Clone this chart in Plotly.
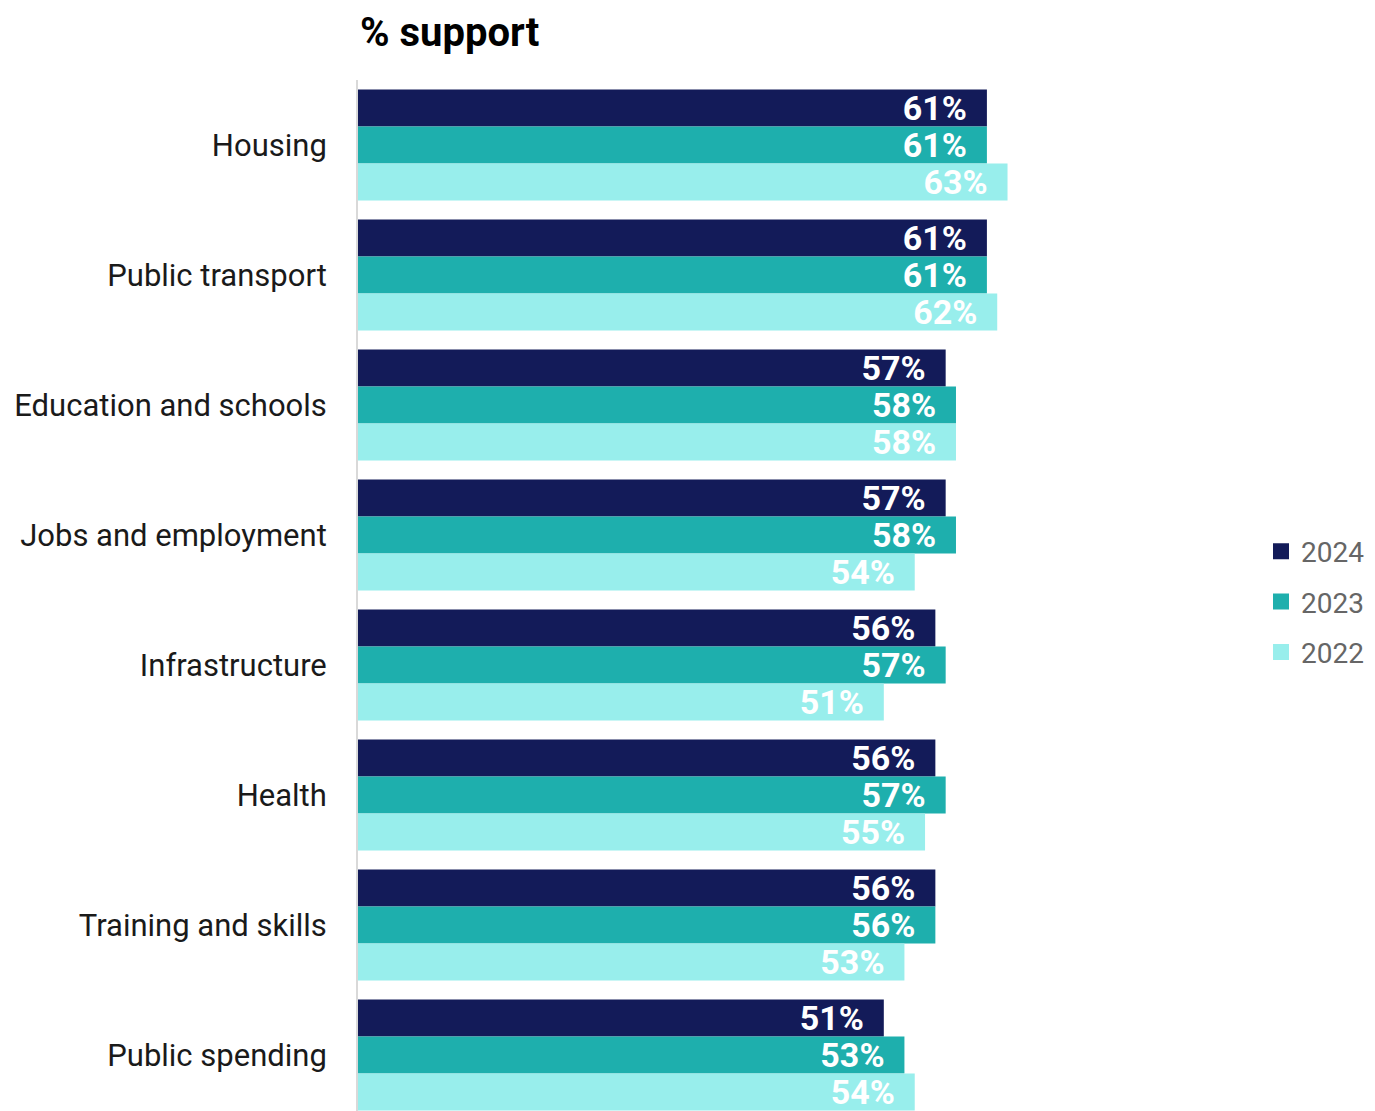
import plotly.graph_objects as go

categories = ["Housing", "Public transport", "Education and schools", "Jobs and employment",
              "Infrastructure", "Health", "Training and skills", "Public spending"]
series_names = ["2024", "2023", "2022"]
values_2024 = [61, 61, 57, 57, 56, 56, 56, 51]
values_2023 = [61, 61, 58, 58, 57, 57, 56, 53]
values_2022 = [63, 62, 58, 54, 51, 55, 53, 54]
colors = ["#131B59", "#1EAFAD", "#98EEEC"]

OFF = 8  # page body margin
W, H = 1375 - OFF, 1111 - OFF
left, right, top, bottom = 358 - OFF, 1240 - OFF, 80 - OFF, 1111 - OFF
px_per_unit = 10.31
pitch = 130.0
plot_h = bottom - top
plot_w = right - left

fig = go.Figure()
for name, vals, col in zip(series_names, [values_2024, values_2023, values_2022], colors):
    fig.add_trace(go.Bar(
        y=categories, x=vals, name=name, orientation="h",
        marker=dict(color=col, line=dict(width=0)),
        text=[f"{v}%\u00a0\u00a0" for v in vals],
        textposition="inside", insidetextanchor="end", constraintext="none",
        textfont=dict(family="Roboto", size=34, color="white", weight="bold"),
        showlegend=False,
    ))
for name, col in zip(series_names, colors):
    fig.add_trace(go.Scatter(
        x=[None], y=[None], mode="markers", name=name,
        marker=dict(symbol="square", size=16, color=col),
        legendgroup=name, showlegend=True,
    ))

fig.add_annotation(
    text="<b>% support</b>", xref="paper", yref="paper",
    x=(359 - OFF - left) / plot_w, xanchor="left",
    y=1 + (top - 0) / plot_h, yanchor="top",
    showarrow=False, borderpad=0,
    font=dict(family="Roboto", size=40, color="#000000"),
)

fig.update_layout(
    width=W, height=H,
    margin=dict(l=left, r=W - right, t=top, b=H - bottom, autoexpand=False),
    paper_bgcolor="white", plot_bgcolor="white",
    barmode="group", bargap=0.146, bargroupgap=0,
    legend=dict(x=(1261 - OFF - left) / plot_w, xanchor="left",
                y=(bottom - (602 - OFF)) / plot_h, yanchor="middle",
                font=dict(family="Roboto", size=28, color="#666666"),
                tracegroupgap=11, bgcolor="rgba(0,0,0,0)"),
    showlegend=True,
)
fig.update_xaxes(visible=False, range=[0, plot_w / px_per_unit], fixedrange=True)
fig.update_yaxes(categoryorder="array", categoryarray=categories,
                 range=[-0.5 + plot_h / pitch, -0.5],
                 showline=True, linecolor="#D9D9D9", linewidth=2, showgrid=False, zeroline=False,
                 ticks="outside", ticklen=23, tickcolor="rgba(0,0,0,0)",
                 tickfont=dict(family="Roboto", size=31, color="#1a1a1a"))

fig.write_html("out.html")
